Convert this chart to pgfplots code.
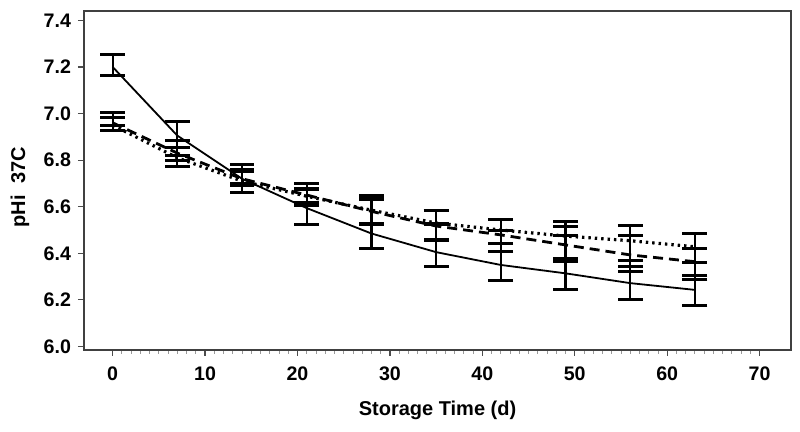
\documentclass[border=0pt]{standalone}
\usepackage{fontspec}
\setmainfont{Liberation Sans}
\usepackage{pgfplots}
\usepackage{pgfplotstable}
\pgfplotsset{compat=1.18}

% fitted curves
\pgfplotstableread{
x   s      d      o
0   7.200  6.960  6.950
7   6.905  6.830  6.810
14  6.720  6.720  6.710
21  6.594  6.650  6.645
28  6.485  6.580  6.585
35  6.405  6.517  6.530
42  6.350  6.479  6.500
49  6.314  6.436  6.474
56  6.272  6.393  6.454
63  6.243  6.364  6.428
}\curves

% means and errors (solid group)
\pgfplotstableread{
x   y      e
0   7.210  0.045
7   6.869  0.095
14  6.720  0.060
21  6.600  0.075
28  6.530  0.110
35  6.465  0.120
42  6.415  0.130
49  6.390  0.145
56  6.360  0.160
63  6.330  0.155
}\errS

% dashed group
\pgfplotstableread{
x   y      e
0   6.965  0.039
7   6.843  0.043
14  6.725  0.035
21  6.660  0.040
28  6.590  0.060
35  6.495  0.035
42  6.453  0.047
49  6.448  0.069
56  6.410  0.065
63  6.363  0.057
}\errD

% dotted group
\pgfplotstableread{
x   y      e
0   6.966  0.017
7   6.838  0.018
14  6.725  0.025
21  6.643  0.037
28  6.578  0.053
35  6.490  0.035
42  6.470  0.030
49  6.420  0.055
56  6.345  0.025
63  6.323  0.037
}\errO

\pgfplotsset{
  ebar/.style={draw=none, mark=none,
    error bars/.cd, y dir=both, y explicit,
    error bar style={draw=black, solid, line width=1.1pt},
    error mark options={draw=black, solid, rotate=90, mark size=6.2pt, line width=1.5pt}},
}

\begin{document}
\begin{tikzpicture}
\useasboundingbox (-42pt,-41pt) rectangle (358pt,175pt);
\begin{axis}[
  scale only axis, width=353.5pt, height=169.5pt,
  at={(0,0)}, anchor=south west,
  xmin=-3.1, xmax=73.4, ymin=5.985, ymax=7.44,
  xtick={0,10,...,70}, minor x tick num=9,
  ytick={6.0,6.2,6.4,6.6,6.8,7.0,7.2,7.4},
  yticklabel style={/pgf/number format/.cd, fixed, fixed zerofill, precision=1},
  /pgf/number format/assume math mode=true,
  tick pos=left, tick align=outside,
  major tick length=3pt, minor tick length=1.8pt,
  tick style={black!70, line width=0.6pt},
  minor tick style={black!40, line width=0.4pt},
  axis line style={black!75, line width=0.9pt},
  tick label style={font=\bfseries\fontsize{9.8}{10}\selectfont, black},
  xticklabel style={yshift=-2pt},
  xlabel={Storage Time (d)}, ylabel={pHi\ \ 37C},
  label style={font=\bfseries\fontsize{10}{11}\selectfont},
  xlabel style={at={(axis description cs:0.5,0)}, anchor=center, yshift=-30pt},
  ylabel style={at={(axis description cs:0,0.48)}, anchor=center, yshift=32pt},
  clip=false,
]
\addplot[black, line width=0.9pt, solid] table[x=x, y=s] {\curves};
\addplot[black, line width=1.4pt, dash pattern=on 5pt off 3pt] table[x=x, y=d] {\curves};
\addplot[black, line width=1.6pt, dash pattern=on 1.2pt off 2pt] table[x=x, y=o] {\curves};

\addplot[ebar] table[x=x, y=y, y error=e] {\errS};
\addplot[ebar] table[x=x, y=y, y error=e] {\errD};
\addplot[ebar] table[x=x, y=y, y error=e] {\errO};
\end{axis}
\end{tikzpicture}
\end{document}
